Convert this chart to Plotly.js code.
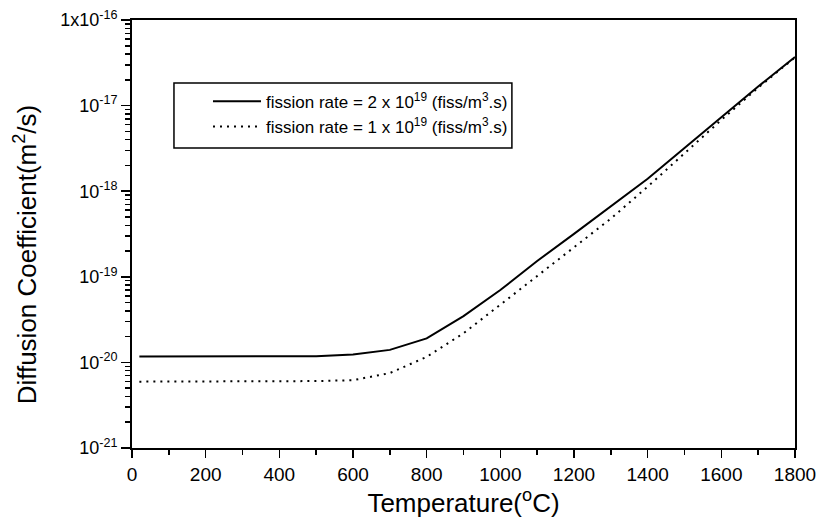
<!DOCTYPE html>
<html>
<head>
<meta charset="utf-8">
<script src="https://cdn.plot.ly/plotly-3.0.1.min.js"></script>
<style>html,body{margin:0;padding:0;background:#fff;}#chart{width:820px;height:522px;}</style>
</head>
<body>
<div id="chart"></div>
<script>
// Temperature (°C)
const temperature = [20, 100, 200, 300, 400, 500, 600, 700, 800, 900, 1000, 1100, 1200, 1300, 1400, 1500, 1600, 1700, 1800];
// Diffusion coefficient (m^2/s), fission rate = 2e19
const diffHigh = [1.17e-20, 1.17e-20, 1.17e-20, 1.17e-20, 1.17e-20, 1.18e-20, 1.24e-20, 1.40e-20, 1.91e-20, 3.48e-20, 7.0e-20, 1.53e-19, 3.17e-19, 6.6e-19, 1.40e-18, 3.2e-18, 7.3e-18, 1.67e-17, 3.7e-17];
// Diffusion coefficient (m^2/s), fission rate = 1e19
const diffLow = [5.96e-21, 5.96e-21, 5.96e-21, 5.96e-21, 5.97e-21, 6.05e-21, 6.2e-21, 7.5e-21, 1.16e-20, 2.19e-20, 4.72e-20, 1.01e-19, 2.21e-19, 4.78e-19, 1.13e-18, 2.77e-18, 6.8e-18, 1.62e-17, 3.66e-17];
const seriesNames = ["fission rate = 2 x 10<sup>19</sup> (fiss/m<sup>3</sup>.s)", "fission rate = 1 x 10<sup>19</sup> (fiss/m<sup>3</sup>.s)"];
const yTickVals = [1e-21, 1e-20, 1e-19, 1e-18, 1e-17, 1e-16];
const yTickText = ["10<sup>-21</sup>", "10<sup>-20</sup>", "10<sup>-19</sup>", "10<sup>-18</sup>", "10<sup>-17</sup>", "1x10<sup>-16</sup>"];
const xTickVals = [0, 200, 400, 600, 800, 1000, 1200, 1400, 1600, 1800];
const xTitle = "Temperature(<sup>o</sup>C)";
const yTitle = "Diffusion Coefficient(m<sup>2</sup>/s)";

const yMinor = [];
for (let e = -21; e < -16; e++) for (let m = 2; m <= 9; m++) yMinor.push(m * Math.pow(10, e));

const FONT = "Liberation Sans, Arial, Helvetica, sans-serif";

const traces = [
  {x: temperature, y: diffHigh, name: seriesNames[0], mode: "lines", type: "scatter",
   line: {color: "#000", width: 2}},
  {x: temperature, y: diffLow, name: seriesNames[1], mode: "lines", type: "scatter",
   line: {color: "#000", width: 2, dash: "2px,5px"}}
];

const layout = {
  width: 820, height: 522,
  margin: {l: 132, r: 25, t: 20, b: 74},
  paper_bgcolor: "#fff", plot_bgcolor: "#fff",
  font: {family: FONT, color: "#000"},
  showlegend: true,
  legend: {x: 0.1146, y: 0.851, xanchor: "left", yanchor: "top",
           borderwidth: 0, bgcolor: "rgba(0,0,0,0)",
           font: {size: 17, family: FONT}, itemwidth: 48, tracegroupgap: 0},
  shapes: [
    {type: "rect", xref: "paper", yref: "paper", x0: 0.0633, x1: 0.573, y0: 0.701, y1: 0.853,
     line: {color: "#000", width: 1.5}, fillcolor: "rgba(0,0,0,0)", layer: "below"}
  ],
  annotations: [
    {text: yTitle, textangle: -90, xref: "paper", yref: "paper", x: -0.161, y: 0.453,
     xanchor: "center", yanchor: "middle", showarrow: false, font: {size: 26, family: FONT}}
  ],
  xaxis: {
    range: [0, 1800], tickvals: xTickVals, ticks: "outside", ticklen: 8, tickwidth: 1.5,
    tickcolor: "#000", showline: true, linecolor: "#000", linewidth: 2, mirror: true,
    showgrid: false, zeroline: false, tickfont: {size: 19, family: FONT},
    minor: {dtick: 100, ticks: "outside", ticklen: 5, tickwidth: 1.5, tickcolor: "#000", showgrid: false},
    title: {text: xTitle, font: {size: 26, family: FONT}, standoff: 10}
  },
  yaxis: {
    type: "log", range: [-21, -16], tickvals: yTickVals, ticktext: yTickText,
    ticks: "outside", ticklen: 9, tickwidth: 1.5, tickcolor: "#000",
    showline: true, linecolor: "#000", linewidth: 2, mirror: true,
    showgrid: false, zeroline: false, tickfont: {size: 18, family: FONT},
    minor: {tickvals: yMinor, ticks: "outside", ticklen: 5, tickwidth: 1.5, tickcolor: "#000", showgrid: false}
  }
};

Plotly.newPlot("chart", traces, layout, {staticPlot: true, displayModeBar: false});
</script>
</body>
</html>
